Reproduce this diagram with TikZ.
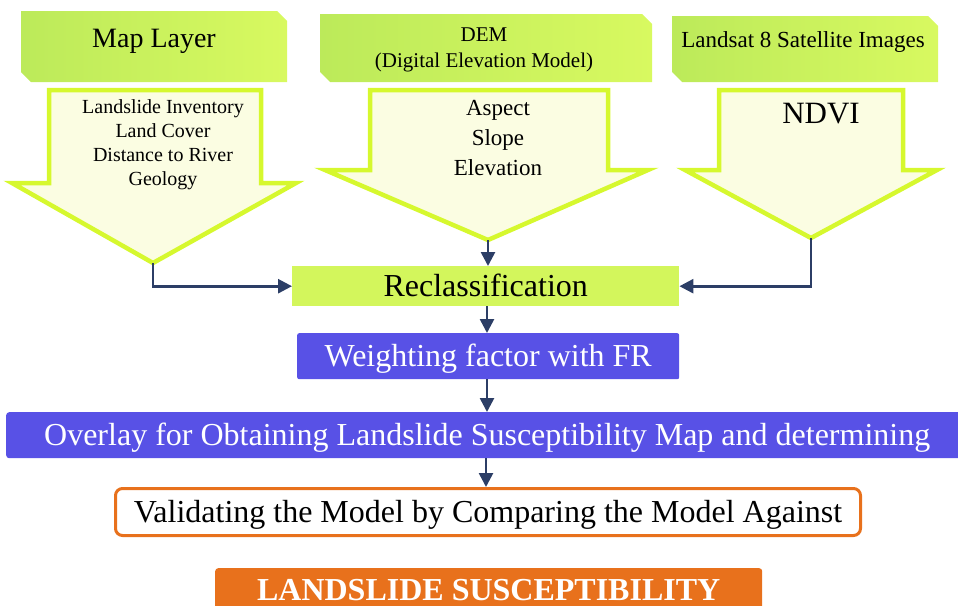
\documentclass[tikz,border=0pt]{standalone}
\usepackage{fontspec}
\setmainfont{Liberation Serif}
\usetikzlibrary{arrows.meta}
\definecolor{navy}{HTML}{2C3E66}
\definecolor{arrowgreen}{HTML}{D6F82E}
\definecolor{cream}{HTML}{FBFDE2}
\definecolor{boxdark}{HTML}{BCEA5A}
\definecolor{boxmid}{HTML}{D0F45A}
\definecolor{boxlight}{HTML}{D8F960}
\definecolor{reclassgreen}{HTML}{D3F65C}
\definecolor{bluebox}{HTML}{5851E6}
\definecolor{orangebox}{HTML}{E8711C}
\newcommand\snipbox[4]{\path[left color=boxdark, middle color=boxmid, right color=boxlight] (#1,#2) -- (#3-10,#2) -- (#3,#2+10) -- (#3,#4) -- (#1+10,#4) -- (#1,#4-10) -- cycle;}
\begin{document}
\begin{tikzpicture}[x=1pt,y=-1pt,
  conn/.style={draw=navy, line width=2.6pt, -{Triangle[length=14pt,width=14pt]}},
  bigarrow/.style={draw=arrowgreen, line width=4.5pt, fill=cream, line join=miter},
  flowbox/.style={inner sep=0pt, text height=21.1pt, text depth=0pt, font=\fontsize{32}{38}\selectfont, anchor=north west},
  arrowtext/.style={inner sep=0pt, anchor=north, align=center}]
\useasboundingbox (0,0) rectangle (958,605);
% top boxes
\snipbox{21}{11}{287}{82}
\snipbox{320}{14}{652}{82}
\snipbox{672}{16}{938}{82}
\node[inner sep=0pt, anchor=base, font=\fontsize{28}{32}\selectfont] (maplayer) at (154,47) {Map Layer};
\node[arrowtext, font=\fontsize{21}{26}\selectfont] (dem) at (484,28) {DEM\\(Digital Elevation Model)};
\node[inner sep=0pt, anchor=base, font=\fontsize{23}{28}\selectfont] (landsat) at (803,47) {Landsat 8 Satellite Images};
% block arrows
\draw[bigarrow] (49,90) -- (261,90) -- (261,183) -- (296,183) -- (153,263) -- (12,183) -- (49,183) -- cycle;
\draw[bigarrow] (370,90) -- (608,90) -- (608,170) -- (648,170) -- (488,240) -- (325,170) -- (370,170) -- cycle;
\draw[bigarrow] (719,90) -- (903,90) -- (903,170) -- (937,170) -- (811,238) -- (685,170) -- (719,170) -- cycle;
\coordinate (maptip) at (153,263);
\coordinate (demtip) at (488,240);
\coordinate (lstip) at (811,238);
\node[arrowtext, font=\fontsize{20}{24}\selectfont] (maplist) at (163,99.5) {Landslide Inventory\\Land Cover\\Distance to River\\Geology};
\node[arrowtext, font=\fontsize{23}{30}\selectfont] (demlist) at (498,99.8) {Aspect\\Slope\\Elevation};
\node[inner sep=0pt, anchor=base, font=\fontsize{31}{36}\selectfont] (ndvi) at (821,123) {NDVI};
% flow boxes
\node[flowbox, fill=reclassgreen, minimum width=387, minimum height=40] (reclass) at (292,266) {Reclassification};
\node[flowbox, fill=bluebox, text=white, minimum width=382, minimum height=46, rounded corners=2pt] (weight) at (297,333) {Weighting factor with FR};
\node[flowbox, fill=bluebox, text=white, minimum width=962, minimum height=46, rounded corners=3pt] (overlay) at (6,412) {Overlay for Obtaining Landslide Susceptibility Map and determining};
\node[flowbox, fill=white, draw=orangebox, line width=3pt, minimum width=745, minimum height=47, rounded corners=7pt] (validate) at (114,487) {Validating the Model by Comparing the Model Against};
\node[flowbox, fill=orangebox, text=white, font=\fontsize{32}{38}\bfseries, minimum width=547, minimum height=44, rounded corners=3pt] (lss) at (215,568) {LANDSLIDE SUSCEPTIBILITY};
% connectors
\draw[conn] (maptip) |- (reclass.west);
\draw[conn] (lstip) |- (reclass.east);
\draw[conn] (demtip) -- (demtip |- reclass.north);
\draw[conn] (reclass.south -| 487,0) -- (weight.north -| 487,0);
\draw[conn] (weight.south -| 487,0) -- (overlay.north -| 487,0);
\draw[conn] (overlay.south -| 486,0) -- (validate.north -| 486,0);
\end{tikzpicture}
\end{document}
